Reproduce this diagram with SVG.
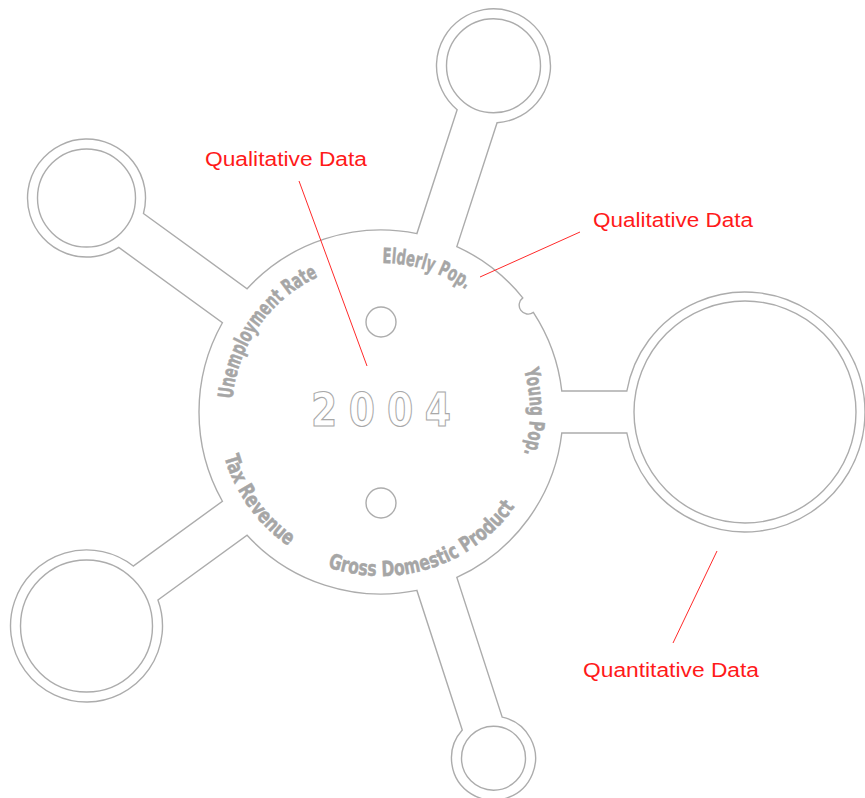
<svg xmlns="http://www.w3.org/2000/svg" width="865" height="798" viewBox="0 0 865 798">
<style>
.ol{fill:none;stroke:#acacac;stroke-width:1.4}
.lbl{font-family:"DejaVu Sans","Liberation Sans",sans-serif;font-weight:bold;font-size:21px;fill:#a6a6a6;stroke:#a6a6a6;stroke-width:0.5}
.yr{font-family:"DejaVu Sans","Liberation Sans",sans-serif;font-weight:bold;font-size:46px;fill:#fff;stroke:#a8a8a8;stroke-width:1.2;text-anchor:middle}
.red{font-family:"Liberation Sans",Arial,sans-serif;font-size:20px;fill:#ff1a1a}
.lead{stroke:#ff2a2a;stroke-width:1;fill:none}
</style>
<defs>
<path id="p-unemp" d="M 232.57 399.01 A 149 149 0 0 1 318.03 276.96"/>
<path id="p-elderly" d="M 382.30 263.01 A 149 149 0 0 1 466.46 289.95"/>
<path id="p-young" d="M 523.94 369.93 A 149 149 0 0 1 524.01 453.82"/>
<path id="p-gdp" d="M 327.61 567.07 A 164 164 0 0 0 515.34 506.07"/>
<path id="p-tax" d="M 224.31 456.93 A 163 163 0 0 0 288.67 546.33"/>
</defs>
<rect width="865" height="798" fill="#fff"/>
<g id="hub">
<path class="ol" d="M 561.79 391 L 626.85 391 A 120 120 0 1 1 626.85 433 L 561.79 433 A 182 182 0 0 1 456.84 577.45 L 502.21 717.10 A 42 42 0 1 1 462.27 730.08 L 416.90 590.43 A 182 182 0 0 1 247.08 535.26 L 157.95 600.01 A 76 76 0 1 1 133.27 566.03 L 222.40 501.28 A 182 182 0 0 1 222.40 322.72 L 118.79 247.44 A 59 59 0 1 1 143.47 213.46 L 247.08 288.74 A 182 182 0 0 1 416.90 233.57 L 457.14 109.72 A 57 57 0 1 1 497.08 122.70 L 456.84 246.55 A 182 182 0 0 1 522.77 297.87 A 9 9 0 0 0 533.35 312.43 A 182 182 0 0 1 561.79 391 Z"/>
<circle class="ol" cx="381" cy="322" r="15"/>
<circle class="ol" cx="381" cy="503" r="15"/>
<text class="yr" transform="translate(381 426) scale(0.82 1)" x="-69.5 -23.2 23.2 69.5" y="0">2004</text>
<text class="lbl"><textPath href="#p-unemp" textLength="156" lengthAdjust="spacingAndGlyphs">Unemployment Rate</textPath></text>
<text class="lbl"><textPath href="#p-elderly" textLength="89" lengthAdjust="spacingAndGlyphs">Elderly Pop.</textPath></text>
<text class="lbl"><textPath href="#p-young" textLength="85" lengthAdjust="spacingAndGlyphs">Young Pop.</textPath></text>
<text class="lbl"><textPath href="#p-gdp" textLength="211" lengthAdjust="spacingAndGlyphs">Gross Domestic Product</textPath></text>
<text class="lbl"><textPath href="#p-tax" textLength="112" lengthAdjust="spacingAndGlyphs">Tax Revenue</textPath></text>
</g>
<g id="node-right"><circle class="ol" cx="745" cy="412" r="111"/></g>
<g id="node-top"><circle class="ol" cx="493.5" cy="65.8" r="47"/></g>
<g id="node-topleft"><circle class="ol" cx="86.5" cy="198" r="49"/></g>
<g id="node-bottomleft"><circle class="ol" cx="86.5" cy="626" r="66"/></g>
<g id="node-bottom"><circle class="ol" cx="493.5" cy="758.2" r="32"/></g>
<g id="annotations">
<text class="red" x="205" y="166" textLength="162" lengthAdjust="spacingAndGlyphs">Qualitative Data</text>
<text class="red" x="593" y="227" textLength="160" lengthAdjust="spacingAndGlyphs">Qualitative Data</text>
<text class="red" x="583" y="677" textLength="176" lengthAdjust="spacingAndGlyphs">Quantitative Data</text>
</g>
<g id="connectors">
<line class="lead" x1="299" y1="181" x2="367" y2="366"/>
<line class="lead" x1="580" y1="232" x2="480" y2="277"/>
<line class="lead" x1="717" y1="551" x2="673" y2="643"/>
</g>
</svg>
